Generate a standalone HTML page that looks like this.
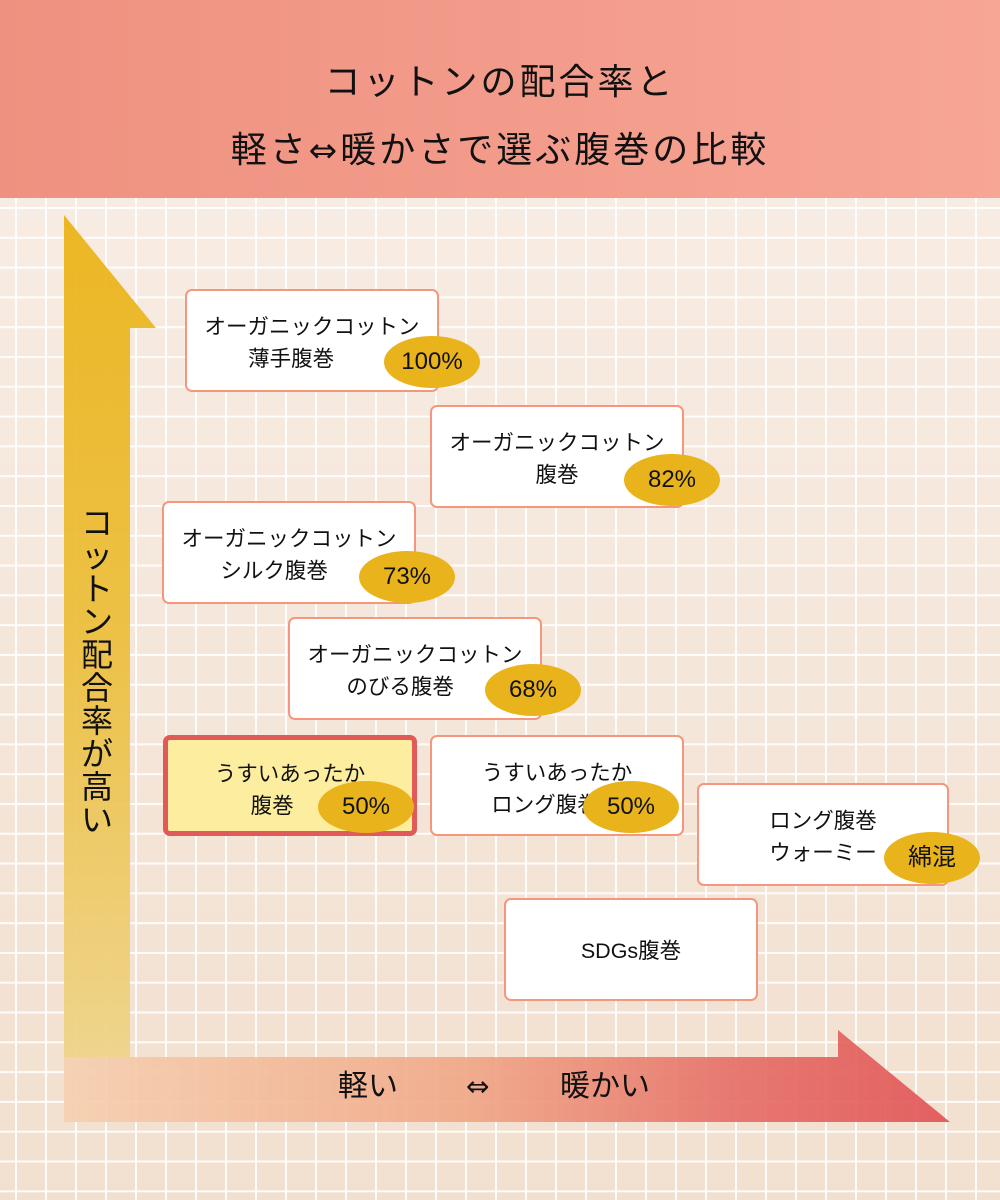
<!DOCTYPE html>
<html><head><meta charset="utf-8">
<style>
*{margin:0;padding:0;box-sizing:border-box}
body{width:1000px;height:1200px;position:relative;overflow:hidden;font-family:"Liberation Sans","Noto Sans CJK JP",sans-serif;color:#111;
background:linear-gradient(#f8eee7,#f2e0cf);}
.grid{position:absolute;left:0;top:198px;width:1000px;height:1002px;
background-image:linear-gradient(90deg,rgba(255,255,255,.9) 2px,transparent 2px),linear-gradient(rgba(255,255,255,.9) 2px,transparent 2px);
background-size:30px 29.8px;background-position:15px 9px;}
.hdr{position:absolute;left:0;top:0;width:1000px;height:198px;background:linear-gradient(90deg,#ef9180,#f7a595);}
.hdr div{position:absolute;width:1000px;text-align:center;font-size:36px;letter-spacing:3px;font-weight:normal;}
.ar{font-family:"DejaVu Sans",sans-serif;font-size:34px}
.box{position:absolute;width:254px;height:103px;background:#fff;border:2.5px solid #f4977c;border-radius:7px;text-align:center;font-size:21.5px;line-height:32px;padding-top:20px;}
.hl{background:#fdee9f;border:5px solid #e05a5a;padding-top:18px}
.pill{position:absolute;width:96px;height:52px;border-radius:50%;background:#e9b31c;font-size:24px;line-height:52px;text-align:center;}
.vt{position:absolute;left:79px;top:507px;width:36px;font-size:32px;line-height:33px;text-align:center;}
.ht{position:absolute;top:1066px;font-size:30px;line-height:42px;}
</style></head><body>
<div class="hdr"><div style="top:53px">コットンの配合率と</div><div style="top:121px">軽さ<span class="ar">⇔</span>暖かさで選ぶ腹巻の比較</div></div>
<div class="grid"></div>
<svg style="position:absolute;left:0;top:0" width="1000" height="1200">
<defs>
<linearGradient id="gv" x1="0" y1="0" x2="0" y2="1"><stop offset="0" stop-color="#ebb41a"/><stop offset="0.5" stop-color="#ecbf3e"/><stop offset="1" stop-color="#eed38a"/></linearGradient>
<linearGradient id="gh" x1="0" y1="0" x2="1" y2="0"><stop offset="0" stop-color="#f6d0b0"/><stop offset="0.45" stop-color="#f0a888"/><stop offset="0.75" stop-color="#e67068"/><stop offset="1" stop-color="#e15556"/></linearGradient>
</defs>
<path d="M64 215 L156 328 L130 328 L130 1057 L64 1057 Z" fill="url(#gv)" opacity="0.95"/>
<path d="M64 1057 L838 1057 L838 1030 L950 1122 L64 1122 Z" fill="url(#gh)" opacity="0.92"/>
</svg>
<div class="vt">コ<br>ッ<br>ト<br>ン<br>配<br>合<br>率<br>が<br>高<br>い</div>
<div class="ht" style="left:338px">軽い</div>
<div class="ht ar" style="left:466px;font-size:28px">⇔</div>
<div class="ht" style="left:560px">暖かい</div>

<div class="box" style="left:185px;top:289px">オーガニックコットン<br>薄手腹巻&nbsp;&nbsp;&nbsp;&nbsp;&nbsp;&nbsp;&nbsp;</div>
<div class="pill" style="left:384px;top:336px">100%</div>
<div class="box" style="left:430px;top:405px">オーガニックコットン<br>腹巻</div>
<div class="pill" style="left:624px;top:454px">82%</div>
<div class="box" style="left:162px;top:501px">オーガニックコットン<br>シルク腹巻&nbsp;&nbsp;&nbsp;&nbsp;&nbsp;</div>
<div class="pill" style="left:359px;top:551px">73%</div>
<div class="box" style="left:288px;top:617px">オーガニックコットン<br>のびる腹巻&nbsp;&nbsp;&nbsp;&nbsp;&nbsp;</div>
<div class="pill" style="left:485px;top:664px">68%</div>
<div class="box hl" style="left:163px;top:735px;height:101px">うすいあったか<br>腹巻&nbsp;&nbsp;&nbsp;&nbsp;&nbsp;&nbsp;</div>
<div class="pill" style="left:318px;top:781px">50%</div>
<div class="box" style="left:430px;top:735px;height:101px">うすいあったか<br>ロング腹巻&nbsp;&nbsp;&nbsp;&nbsp;</div>
<div class="pill" style="left:583px;top:781px">50%</div>
<div class="box" style="left:697px;top:783px;width:252px">ロング腹巻<br>ウォーミー</div>
<div class="pill" style="left:884px;top:832px">綿混</div>
<div class="box" style="left:504px;top:898px;padding-top:35px">SDGs腹巻</div>
</body></html>
